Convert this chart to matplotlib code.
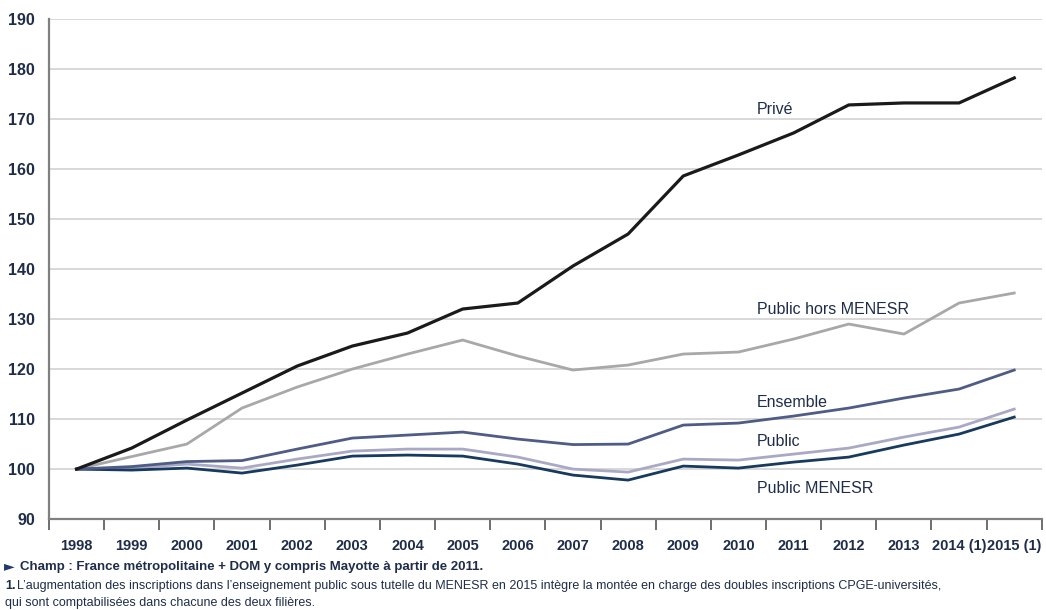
import numpy as np
import matplotlib.pyplot as plt

plt.rcParams['font.family'] = ['Liberation Sans', 'DejaVu Sans']

annees = ['1998', '1999', '2000', '2001', '2002', '2003', '2004', '2005', '2006',
          '2007', '2008', '2009', '2010', '2011', '2012', '2013', '2014 (1)', '2015 (1)']
prive = [100, 104.2, 109.8, 115.2, 120.6, 124.6, 127.2, 132, 133.2,
         140.6, 147, 158.6, 162.8, 167.2, 172.8, 173.2, 173.2, 178.2]
public_hors = [100, 102.5, 105, 112.2, 116.4, 120, 123, 125.8, 122.6,
               119.8, 120.8, 123, 123.4, 126, 129, 127, 133.2, 135.2]
ensemble = [100, 100.5, 101.5, 101.7, 104, 106.2, 106.8, 107.4, 106,
            104.9, 105, 108.8, 109.2, 110.6, 112.2, 114.2, 116, 119.8]
public = [100, 100.2, 101, 100.2, 102, 103.6, 104, 104, 102.4,
          100, 99.4, 102, 101.8, 103, 104.2, 106.4, 108.4, 112]
public_menesr = [100, 99.8, 100.2, 99.2, 100.8, 102.6, 102.8, 102.6, 101,
                 98.8, 97.8, 100.6, 100.2, 101.4, 102.4, 104.8, 107, 110.4]

x = np.arange(len(annees))

fig = plt.figure(figsize=(10.46, 6.10), dpi=100)
ax = fig.add_axes([0.0468, 0.149, 0.9492, 0.820])

ax.plot(x, public_hors, color='#a8a8a8', lw=2.0)
ax.plot(x, public, color='#a9a9c6', lw=2.0)
ax.plot(x, public_menesr, color='#173a5e', lw=2.0)
ax.plot(x, ensemble, color='#4f5c85', lw=2.0)
ax.plot(x, prive, color='#1a1a1a', lw=2.3)

txt = '#1f2d4a'
ax.text(12.33, 171.8, 'Privé', color=txt, fontsize=11.5, va='center')
ax.text(12.33, 132.0, 'Public hors MENESR', color=txt, fontsize=11.5, va='center')
ax.text(12.33, 113.4, 'Ensemble', color=txt, fontsize=11.5, va='center')
ax.text(12.33, 105.6, 'Public', color=txt, fontsize=11.5, va='center')
ax.text(12.33, 96.2, 'Public MENESR', color=txt, fontsize=11.5, va='center')

ax.set_xlim(-0.5, 17.5)
ax.set_ylim(90, 190)
ax.set_yticks(np.arange(90, 191, 10))
ax.set_xticks(x)
ax.set_xticklabels(annees)
ax.set_xticks(np.arange(-0.5, 18, 1), minor=True)
ax.tick_params(axis='x', which='major', length=0, pad=14, labelsize=10.5)
ax.tick_params(axis='x', which='minor', length=8, width=1.2, color='#555555', direction='out')
ax.tick_params(axis='y', length=0, pad=10, labelsize=11.5)
for lab in ax.get_xticklabels() + ax.get_yticklabels():
    lab.set_color(txt)
    lab.set_fontweight('bold')

ax.grid(axis='y', color='#d6d6d6', lw=1.3)
ax.set_axisbelow(True)
for s in ['top', 'right']:
    ax.spines[s].set_visible(False)
for s in ['left', 'bottom']:
    ax.spines[s].set_color('#808080')
    ax.spines[s].set_linewidth(1.6)

fig.text(0.004, 0.065, '►', color='#1f3a6e', fontsize=10, family=['DejaVu Sans'])
fig.text(0.019, 0.065, 'Champ : France métropolitaine + DOM y compris Mayotte à partir de 2011.',
         color=txt, fontsize=9.5, fontweight='bold')
fig.text(0.005, 0.034, '1.', color=txt, fontsize=9, fontweight='bold')
fig.text(0.016, 0.034, 'L’augmentation des inscriptions dans l’enseignement public sous tutelle du MENESR '
         'en 2015 intègre la montée en charge des doubles inscriptions CPGE-universités,',
         color=txt, fontsize=9)
fig.text(0.005, 0.006, 'qui sont comptabilisées dans chacune des deux filières.',
         color=txt, fontsize=9)

plt.savefig('out.png', dpi=100)
